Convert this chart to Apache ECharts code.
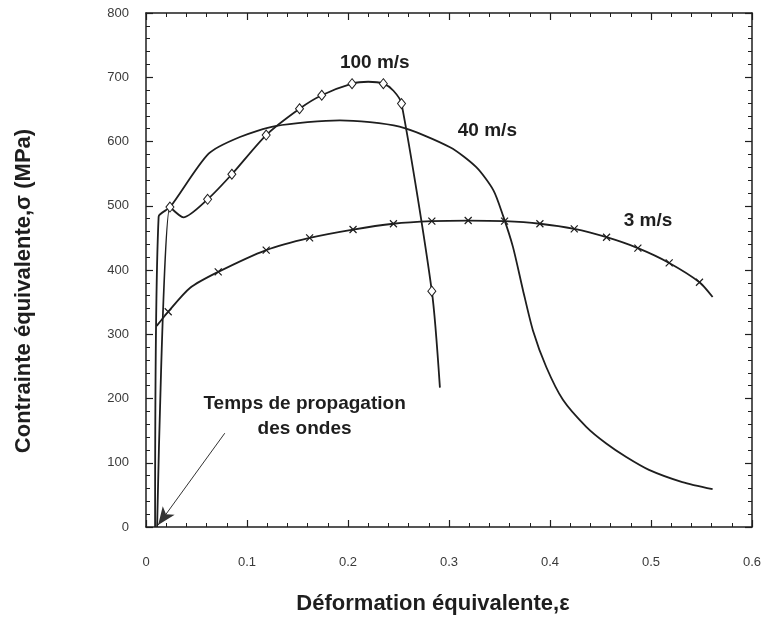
<!DOCTYPE html>
<html>
<head>
<meta charset="utf-8">
<script src="https://cdn.jsdelivr.net/npm/echarts@6/dist/echarts.min.js"></script>
<style>
html,body{margin:0;padding:0;background:#fff;}
#main{width:763px;height:618px;}
</style>
</head>
<body>
<div id="main"></div>
<script>
// valeurs
var xTicks = [0, 0.1, 0.2, 0.3, 0.4, 0.5, 0.6];
var yTicks = [0, 100, 200, 300, 400, 500, 600, 700, 800];

// 100 m/s
var v100x = [0.011, 0.0237, 0.037, 0.061, 0.085, 0.119, 0.152, 0.174, 0.204, 0.22, 0.235, 0.245, 0.253, 0.283, 0.291];
var v100y = [0, 498, 482, 510, 549, 610, 651, 672, 690, 693, 690, 679, 659, 367, 217];
var v100marks = [1, 3, 4, 5, 6, 7, 8, 10, 12, 13];

// 40 m/s
var v40x = [0.009, 0.0125, 0.024, 0.062, 0.093, 0.128, 0.192, 0.251, 0.301, 0.327, 0.344, 0.3534, 0.3633, 0.3732, 0.3831, 0.3963, 0.4128, 0.4359, 0.4557, 0.4755, 0.498, 0.531, 0.561];
var v40y = [0, 483, 498, 581, 607, 624, 633, 623, 591, 560, 524, 485, 436, 369, 306, 249, 198, 156, 130, 109, 89, 70, 59];

// 3 m/s
var v3x = [0.0106, 0.022, 0.0435, 0.0715, 0.119, 0.162, 0.205, 0.245, 0.283, 0.319, 0.355, 0.390, 0.424, 0.456, 0.487, 0.518, 0.548, 0.561];
var v3y = [313, 335, 372, 397, 431, 450, 463, 472, 476, 477, 476, 472, 464, 451, 434, 411, 381, 358];
var v3marks = [1, 3, 4, 5, 6, 7, 8, 9, 10, 11, 12, 13, 14, 15, 16];

// annotations (en coordonnées données)
var labels = [
    {text: '100 m/s', x: 0.2265, y: 723},
    {text: '40 m/s', x: 0.338, y: 616},
    {text: '3 m/s', x: 0.497, y: 477},
    {text: 'Temps de propagation\ndes ondes', x: 0.157, y: 173}
];
var arrowFrom = [0.078, 146];
var arrowTo = [0.012, 3];

function zip(xs, ys){
    var out = [];
    for (var i = 0; i < xs.length; i++) out.push([xs[i], ys[i]]);
    return out;
}

var ink = '#1e1e1e';
var font = 'Liberation Sans, Arial, sans-serif';

function axisCommon(showLabel){
    return {
        axisLine: {show: true, onZero: false, lineStyle: {color: ink, width: 1.5}},
        axisTick: {show: true, inside: true, length: 7, lineStyle: {color: ink, width: 1.2}},
        minorTick: {show: true, splitNumber: 5, length: 4, lineStyle: {color: ink, width: 1}},
        splitLine: {show: false},
        axisLabel: {show: showLabel, color: '#3a3a3a', fontSize: 13, fontFamily: font}
    };
}

var xBottom = axisCommon(true);
xBottom.type = 'value'; xBottom.min = 0; xBottom.max = 0.6; xBottom.interval = 0.1;
xBottom.position = 'bottom';
xBottom.axisLabel.margin = 29;
xBottom.axisLabel.formatter = function(v){ var r = Math.round(v*10)/10; return xTicks.indexOf(r) >= 0 ? String(r) : ''; };
xBottom.name = 'Déformation équivalente,ε';
xBottom.nameLocation = 'middle';
xBottom.nameGap = 66;
xBottom.nameTextStyle = {color: ink, fontSize: 22, fontWeight: 'bold', fontFamily: font, padding: [0, 32, 0, 0]};

var xTop = axisCommon(false);
xTop.type = 'value'; xTop.min = 0; xTop.max = 0.6; xTop.interval = 0.1; xTop.position = 'top';

var yLeft = axisCommon(true);
yLeft.type = 'value'; yLeft.min = 0; yLeft.max = 800; yLeft.interval = 100; yLeft.position = 'left';
yLeft.axisLabel.margin = 17;
yLeft.name = 'Contrainte équivalente,σ (MPa)';
yLeft.nameLocation = 'middle';
yLeft.nameGap = 111;
yLeft.nameTextStyle = {color: ink, fontSize: 22, fontWeight: 'bold', fontFamily: font, padding: [0, 42, 0, 0]};

var yRight = axisCommon(false);
yRight.type = 'value'; yRight.min = 0; yRight.max = 800; yRight.interval = 100; yRight.position = 'right';

var lineStyle = {color: ink, width: 1.8};

var option = {
    backgroundColor: '#fff',
    animation: false,
    grid: {left: 146, right: 11, top: 13, bottom: 91, outerBoundsMode: 'none', containLabel: false},
    xAxis: [xBottom, xTop],
    yAxis: [yLeft, yRight],
    series: [{
        name: '100 m/s',
        type: 'line',
        data: zip(v100x, v100y),
        smooth: 0.25,
        lineStyle: lineStyle,
        symbol: function(val, params){ return v100marks.indexOf(params.dataIndex) >= 0 ? 'diamond' : 'none'; },
        symbolSize: [8, 10],
        itemStyle: {color: '#fff', borderColor: ink, borderWidth: 1},
        markPoint: {
            symbol: 'circle',
            symbolSize: 1,
            itemStyle: {color: 'rgba(0,0,0,0)'},
            data: labels.map(function(l){
                return {
                    coord: [l.x, l.y],
                    label: {show: true, formatter: l.text, color: ink, fontSize: 19, fontWeight: 'bold',
                        fontFamily: font, lineHeight: 25, align: 'center', verticalAlign: 'middle', position: 'inside'}
                };
            })
        },
        markLine: {
            silent: true,
            symbol: ['none', 'arrow'],
            symbolSize: [11, 18],
            label: {show: false},
            lineStyle: {color: '#333', width: 1, type: 'solid'},
            data: [[{coord: arrowFrom}, {coord: arrowTo}]]
        },
        z: 3
    }, {
        name: '40 m/s',
        type: 'line',
        data: zip(v40x, v40y),
        smooth: 0.25,
        lineStyle: lineStyle,
        symbol: 'none',
        z: 2
    }, {
        name: '3 m/s',
        type: 'line',
        data: zip(v3x, v3y),
        smooth: 0.25,
        lineStyle: lineStyle,
        symbol: function(val, params){ return v3marks.indexOf(params.dataIndex) >= 0 ? 'path://M0,0L10,10M0,10L10,0' : 'none'; },
        symbolSize: 7,
        itemStyle: {color: 'none', borderColor: ink, borderWidth: 1.2},
        z: 2
    }]
};

var chart = echarts.init(document.getElementById('main'));
chart.setOption(option);
</script>
</body>
</html>
